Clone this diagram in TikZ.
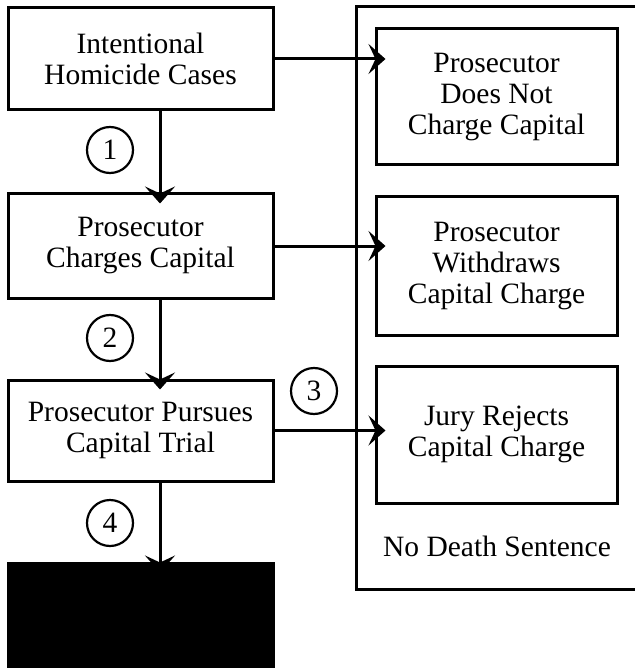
\documentclass[tikz,border=0pt]{standalone}
\usepackage{fontspec}
\setmainfont{Liberation Serif}
\usetikzlibrary{arrows.meta}
\begin{document}
\begin{tikzpicture}[x=1pt, y=-1pt,
    flowbox/.style={draw, line width=3pt, rectangle, align=center, inner sep=0pt, font=\fontsize{29.5}{31}\selectfont},
    numcircle/.style={draw, line width=2.2pt, circle, minimum size=46pt, inner sep=0pt, font=\fontsize{29.5}{31}\selectfont},
    flow/.style={line width=3pt, -{Stealth[length=17pt, width=30pt, inset=7pt]}, shorten >=-11pt}]
			\useasboundingbox (0,0) rectangle (634,668);

			\node[flowbox, minimum width=304pt, minimum height=582pt] at (508, 298) (nodeath) {};
			\node[flowbox, draw=none] at (497, 546) (nolabel) {No Death Sentence};

			\node[flowbox, minimum width=265pt, minimum height=102pt] at (140.5, 59) (cases) {Intentional\\Homicide Cases};
			\node[flowbox, minimum width=265pt, minimum height=104pt] at (140.5, 246) (charges) {Prosecutor\\Charges Capital};
			\node[flowbox, minimum width=265pt, minimum height=101pt] at (140.5, 430.5) (trial) {Prosecutor Pursues\\Capital Trial};
			\node[flowbox, fill=black, minimum width=265pt, minimum height=126pt] at (140.5, 626) (sentence) {};

			\node[flowbox, minimum width=241pt, minimum height=136pt] at (496.5, 97) (notcharge) {Prosecutor\\Does Not\\Charge Capital};
			\node[flowbox, minimum width=241pt, minimum height=138pt] at (496.5, 266) (withdraws) {Prosecutor\\Withdraws\\Capital Charge};
			\node[flowbox, minimum width=241pt, minimum height=137pt] at (496.5, 434.5) (rejects) {Jury Rejects\\Capital Charge};

			\node[numcircle] at (110, 150) (step1) {1};
			\node[numcircle] at (110, 338) (step2) {2};
			\node[numcircle] at (314, 391) (step3) {3};
			\node[numcircle] at (110, 523) (step4) {4};

			\path
			([xshift=19.5pt]cases.south) edge[flow] ([xshift=19.5pt]charges.north)
			([xshift=19.5pt]charges.south) edge[flow] ([xshift=19.5pt]trial.north)
			([xshift=19.5pt]trial.south) edge[flow] ([xshift=19.5pt]sentence.north)
			(cases.east) edge[flow] (cases.east -| notcharge.west)
			(charges.east) edge[flow] (charges.east -| withdraws.west)
			(trial.east) edge[flow] (trial.east -| rejects.west);
		\end{tikzpicture}
\end{document}
